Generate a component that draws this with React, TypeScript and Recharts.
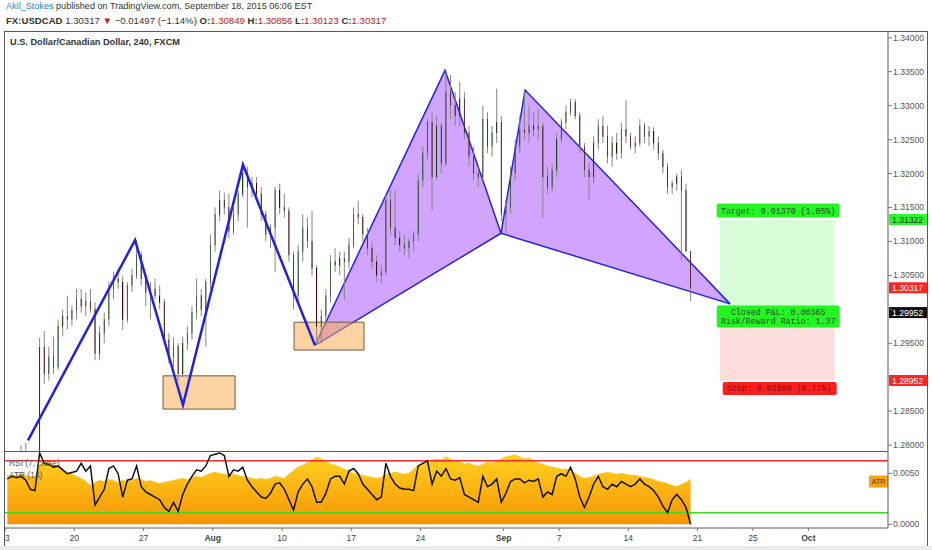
import React from "react";
import { ComposedChart, Bar, Line, Area, XAxis, YAxis, ReferenceArea, ReferenceLine } from "recharts";

// USDCAD, one row per 8h session, starting Mon 13 Jul 2015 (trading day 0). [open, high, low, close]
const ohlc: number[][] = [
  [1.2760, 1.2780, 1.2740, 1.2765], [1.2765, 1.2785, 1.2750, 1.2772], [1.2772, 1.2790, 1.2758, 1.2770],
  [1.2770, 1.2800, 1.2755, 1.2785], [1.2785, 1.2803, 1.2770, 1.2778], [1.2778, 1.2790, 1.2762, 1.2770],
  [1.2770, 1.2785, 1.2745, 1.2760], [1.2760, 1.2958, 1.2755, 1.2944], [1.2944, 1.2968, 1.2890, 1.2905],
  [1.2905, 1.2945, 1.2895, 1.2930], [1.2930, 1.2960, 1.2905, 1.2915], [1.2915, 1.2985, 1.2910, 1.2975],
  [1.2975, 1.3000, 1.2960, 1.2990], [1.2990, 1.3020, 1.2970, 1.2985], [1.2985, 1.3005, 1.2975, 1.2998],
  [1.2998, 1.3030, 1.2985, 1.3015], [1.3015, 1.3030, 1.2995, 1.3005], [1.3005, 1.3025, 1.2990, 1.3012],
  [1.3012, 1.3030, 1.2995, 1.3000], [1.3000, 1.3010, 1.2925, 1.2935], [1.2935, 1.2975, 1.2925, 1.2965],
  [1.2965, 1.2995, 1.2950, 1.2985], [1.2985, 1.3040, 1.2975, 1.3030], [1.3030, 1.3055, 1.3015, 1.3045],
  [1.3045, 1.3060, 1.3030, 1.3040], [1.3040, 1.3050, 1.2970, 1.2985], [1.2985, 1.3040, 1.2980, 1.3035],
  [1.3035, 1.3060, 1.3025, 1.3050], [1.3050, 1.3102, 1.3045, 1.3080], [1.3080, 1.3085, 1.3035, 1.3045],
  [1.3045, 1.3050, 1.3005, 1.3025], [1.3025, 1.3040, 1.2985, 1.3030], [1.3030, 1.3045, 1.3015, 1.3020],
  [1.3020, 1.3035, 1.3000, 1.3010], [1.3010, 1.3015, 1.2950, 1.2955], [1.2955, 1.2965, 1.2920, 1.2930],
  [1.2930, 1.2958, 1.2915, 1.2945], [1.2945, 1.2950, 1.2895, 1.2905], [1.2905, 1.2960, 1.2900, 1.2950],
  [1.2950, 1.2975, 1.2940, 1.2965], [1.2965, 1.3005, 1.2955, 1.2995], [1.2995, 1.3045, 1.2985, 1.3020],
  [1.3020, 1.3030, 1.2990, 1.3000], [1.3000, 1.3045, 1.2945, 1.3040], [1.3040, 1.3110, 1.3030, 1.3095],
  [1.3095, 1.3150, 1.3085, 1.3140], [1.3140, 1.3175, 1.3130, 1.3160], [1.3160, 1.3172, 1.3140, 1.3150],
  [1.3150, 1.3170, 1.3105, 1.3115], [1.3115, 1.3150, 1.3110, 1.3140], [1.3140, 1.3175, 1.3130, 1.3170],
  [1.3170, 1.3213, 1.3165, 1.3200], [1.3200, 1.3210, 1.3120, 1.3180], [1.3180, 1.3195, 1.3165, 1.3185],
  [1.3185, 1.3195, 1.3160, 1.3170], [1.3170, 1.3180, 1.3130, 1.3140], [1.3140, 1.3145, 1.3100, 1.3110],
  [1.3110, 1.3125, 1.3090, 1.3120], [1.3120, 1.3180, 1.3055, 1.3175], [1.3175, 1.3185, 1.3140, 1.3150],
  [1.3150, 1.3170, 1.3135, 1.3145], [1.3145, 1.3150, 1.3070, 1.3080], [1.3080, 1.3085, 1.3000, 1.3020],
  [1.3020, 1.3095, 1.3010, 1.3085], [1.3085, 1.3140, 1.3070, 1.3120], [1.3120, 1.3135, 1.3090, 1.3100],
  [1.3100, 1.3145, 1.3050, 1.3060], [1.3060, 1.3065, 1.2955, 1.2975], [1.2975, 1.3000, 1.2950, 1.2990],
  [1.2990, 1.3030, 1.2975, 1.3020], [1.3020, 1.3080, 1.3010, 1.3070], [1.3070, 1.3090, 1.3055, 1.3065],
  [1.3065, 1.3085, 1.3050, 1.3075], [1.3075, 1.3085, 1.3014, 1.3070], [1.3070, 1.3105, 1.3060, 1.3095],
  [1.3095, 1.3150, 1.3090, 1.3140], [1.3140, 1.3160, 1.3125, 1.3135], [1.3135, 1.3140, 1.3100, 1.3110],
  [1.3110, 1.3120, 1.3080, 1.3090], [1.3090, 1.3100, 1.3060, 1.3070], [1.3070, 1.3080, 1.3040, 1.3050],
  [1.3050, 1.3065, 1.3038, 1.3055], [1.3055, 1.3170, 1.3050, 1.3160], [1.3160, 1.3175, 1.3110, 1.3120],
  [1.3120, 1.3175, 1.3095, 1.3105], [1.3105, 1.3115, 1.3085, 1.3095], [1.3095, 1.3110, 1.3080, 1.3090],
  [1.3090, 1.3105, 1.3075, 1.3100], [1.3100, 1.3115, 1.3085, 1.3110], [1.3110, 1.3200, 1.3100, 1.3190],
  [1.3190, 1.3240, 1.3180, 1.3230], [1.3230, 1.3280, 1.3220, 1.3275], [1.3275, 1.3290, 1.3145, 1.3195],
  [1.3195, 1.3285, 1.3190, 1.3270], [1.3270, 1.3275, 1.3200, 1.3215], [1.3215, 1.3352, 1.3210, 1.3320],
  [1.3320, 1.3345, 1.3280, 1.3300], [1.3300, 1.3320, 1.3270, 1.3285], [1.3285, 1.3335, 1.3270, 1.3310],
  [1.3310, 1.3320, 1.3250, 1.3260], [1.3260, 1.3270, 1.3210, 1.3225], [1.3225, 1.3240, 1.3190, 1.3200],
  [1.3200, 1.3210, 1.3180, 1.3195], [1.3195, 1.3300, 1.3190, 1.3280], [1.3280, 1.3290, 1.3230, 1.3240],
  [1.3240, 1.3270, 1.3225, 1.3260], [1.3260, 1.3325, 1.3245, 1.3275], [1.3275, 1.3285, 1.3130, 1.3140],
  [1.3140, 1.3160, 1.3112, 1.3150], [1.3150, 1.3210, 1.3140, 1.3200], [1.3200, 1.3250, 1.3190, 1.3240],
  [1.3240, 1.3285, 1.3230, 1.3265], [1.3265, 1.3322, 1.3250, 1.3260], [1.3260, 1.3300, 1.3245, 1.3270],
  [1.3270, 1.3290, 1.3255, 1.3265], [1.3265, 1.3295, 1.3250, 1.3270], [1.3270, 1.3275, 1.3135, 1.3195],
  [1.3195, 1.3210, 1.3170, 1.3180], [1.3180, 1.3215, 1.3172, 1.3205], [1.3205, 1.3260, 1.3195, 1.3250],
  [1.3250, 1.3280, 1.3245, 1.3275], [1.3275, 1.3300, 1.3265, 1.3290], [1.3290, 1.3310, 1.3285, 1.3305],
  [1.3305, 1.3310, 1.3280, 1.3285], [1.3285, 1.3290, 1.3230, 1.3240], [1.3240, 1.3245, 1.3195, 1.3205],
  [1.3205, 1.3215, 1.3160, 1.3195], [1.3195, 1.3255, 1.3185, 1.3245], [1.3245, 1.3280, 1.3235, 1.3270],
  [1.3270, 1.3285, 1.3245, 1.3255], [1.3255, 1.3270, 1.3215, 1.3225], [1.3225, 1.3255, 1.3210, 1.3245],
  [1.3245, 1.3260, 1.3220, 1.3230], [1.3230, 1.3275, 1.3222, 1.3265], [1.3265, 1.3308, 1.3245, 1.3255],
  [1.3255, 1.3260, 1.3235, 1.3240], [1.3240, 1.3255, 1.3230, 1.3245], [1.3245, 1.3280, 1.3240, 1.3270],
  [1.3270, 1.3275, 1.3245, 1.3255], [1.3255, 1.3270, 1.3240, 1.3262], [1.3262, 1.3268, 1.3235, 1.3245],
  [1.3245, 1.3255, 1.3220, 1.3230], [1.3230, 1.3235, 1.3200, 1.3210], [1.3210, 1.3215, 1.3170, 1.3180],
  [1.3180, 1.3190, 1.3170, 1.3185], [1.3185, 1.3200, 1.3175, 1.3195], [1.3195, 1.3205, 1.3072, 1.3175],
  [1.3175, 1.3185, 1.3085, 1.30849], [1.30849, 1.30856, 1.30123, 1.30317],
];

const atr14 = [
  0.0048, 0.0047, 0.0048, 0.0049, 0.0048, 0.0047, 0.0046, 0.0058, 0.0061, 0.0060, 0.0058, 0.0056,
  0.0054, 0.0051, 0.0049, 0.0047, 0.0045, 0.0042, 0.0038, 0.0041, 0.0043, 0.0042, 0.0044, 0.0043,
  0.0041, 0.0043, 0.0042, 0.0043, 0.0045, 0.0044, 0.0042, 0.0043, 0.0041, 0.0040, 0.0041, 0.0042,
  0.0043, 0.0044, 0.0045, 0.0044, 0.0046, 0.0047, 0.0046, 0.0048, 0.0050, 0.0051, 0.0050, 0.0049,
  0.0048, 0.0049, 0.0048, 0.0047, 0.0046, 0.0045, 0.0044, 0.0045, 0.0044, 0.0045, 0.0047, 0.0046,
  0.0045, 0.0049, 0.0053, 0.0056, 0.0058, 0.0060, 0.0063, 0.0066, 0.0064, 0.0062, 0.0059, 0.0058,
  0.0056, 0.0054, 0.0052, 0.0050, 0.0049, 0.0048, 0.0047, 0.0046, 0.0045, 0.0046, 0.0049, 0.0050,
  0.0051, 0.0050, 0.0049, 0.0050, 0.0054, 0.0058, 0.0060, 0.0061, 0.0063, 0.0064, 0.0063, 0.0066,
  0.0064, 0.0062, 0.0061, 0.0059, 0.0060, 0.0058, 0.0057, 0.0059, 0.0061, 0.0060, 0.0062, 0.0064,
  0.0066, 0.0067, 0.0068, 0.0066, 0.0064, 0.0065, 0.0062, 0.0060, 0.0059, 0.0057, 0.0056, 0.0055,
  0.0054, 0.0054, 0.0053, 0.0050, 0.0047, 0.0045, 0.0046, 0.0047, 0.0049, 0.0050, 0.0051, 0.0050,
  0.0049, 0.0050, 0.0049, 0.0048, 0.0048, 0.0047, 0.0046, 0.0045, 0.0044, 0.0042, 0.0041, 0.0040,
  0.0038, 0.0037, 0.0039, 0.0041, 0.0044,
];

const rsi7 = [
  56, 58, 57, 58, 55, 48, 47, 76, 68, 67, 65, 66, 63, 60, 61, 62, 68, 62, 66, 36, 42, 48, 64, 66,
  60, 42, 55, 56, 66, 50, 46, 44, 42, 40, 34, 31, 38, 31, 44, 52, 58, 63, 62, 66, 74, 75, 76, 74,
  58, 63, 62, 65, 55, 50, 46, 42, 41, 45, 52, 53, 48, 40, 32, 46, 52, 56, 50, 38, 38, 45, 56, 58,
  58, 52, 62, 64, 60, 52, 48, 44, 40, 42, 68, 58, 52, 49, 48, 48, 47, 66, 68, 70, 52, 62, 58, 64,
  56, 55, 57, 44, 42, 40, 38, 58, 50, 52, 56, 38, 45, 54, 56, 56, 53, 55, 54, 56, 42, 46, 44, 58,
  60, 58, 65, 56, 42, 34, 42, 52, 58, 50, 48, 52, 50, 54, 52, 50, 52, 56, 52, 50, 47, 42, 35, 30,
  40, 44, 40, 34, 21,
];

// trading days (weekends skipped): 13 Jul = 0
const dayTicks = [0, 5, 10, 15, 20, 25, 30, 36, 40, 45, 50, 54, 58];
const dayLabels = ["13", "20", "27", "Aug", "10", "17", "24", "Sep", "7", "14", "21", "25", "Oct"];
const priceTicks = [1.28, 1.285, 1.29, 1.295, 1.3, 1.305, 1.31, 1.315, 1.32, 1.325, 1.33, 1.335, 1.34];
const atrTicks = [0, 0.005];

// drawings
const zigzag = [
  { t: 1.66, p: 1.2807 },
  { t: 9.39, p: 1.3102 },
  { t: 12.85, p: 1.2859 },
  { t: 17.18, p: 1.3213 },
  { t: 22.38, p: 1.2947 },
];
const harmonic = {
  X: { t: 22.38, p: 1.2947 },
  A: { t: 31.77, p: 1.3352 },
  B: { t: 35.81, p: 1.3112 },
  C: { t: 37.55, p: 1.3323 },
  D: { t: 52.35, p: 1.3008 },
};
const boxes = [
  { t1: 11.41, t2: 16.61, p1: 1.2853, p2: 1.2902 },
  { t1: 20.87, t2: 25.92, p1: 1.2940, p2: 1.2981 },
];
const position = { t1: 51.6, t2: 59.9, entry: 1.29952, target: 1.31322, stop: 1.28952 };
const badges = [
  { value: 1.31322, bg: "#2bf52b", fg: "#1c3a1c" },
  { value: 1.30317, bg: "#ff2424", fg: "#ffffff" },
  { value: 1.29952, bg: "#111111", fg: "#ffffff" },
  { value: 1.28952, bg: "#ff2424", fg: "#ffffff" },
];

const bars = ohlc.map(([o, h, l, c], i) => ({ t: (i + 0.5) / 3, o, h, l, c }));
const studies = atr14.map((atr, i) => ({ t: (i + 0.5) / 3, atr, rsi: rsi7[i] }));

function triangle(left: any, mid: any, right: any) {
  const k = (mid.t - left.t) / (right.t - left.t);
  const edge = left.p + (right.p - left.p) * k;
  return [
    { t: left.t, band: [left.p, left.p] },
    { t: mid.t, band: [Math.min(edge, mid.p), Math.max(edge, mid.p)] },
    { t: right.t, band: [right.p, right.p] },
  ];
}
const triXAB = triangle(harmonic.X, harmonic.A, harmonic.B);
const triBCD = triangle(harmonic.B, harmonic.C, harmonic.D);

const FONT = "'Liberation Sans', Arial, sans-serif";
const MONO = "'Liberation Mono', 'DejaVu Sans Mono', monospace";
const T_DOMAIN = [0, 63.75];

function Candle(props: any) {
  const { x, y, width, height, payload } = props;
  if (!payload || !height || height <= 0) return null;
  const { o, h, l, c } = payload;
  const k = height / (h - l);
  const yo = y + (h - o) * k;
  const yc = y + (h - c) * k;
  const up = c >= o;
  const mid = x + width / 2;
  return (
    <g>
      <line x1={mid} x2={mid} y1={y} y2={y + height} stroke="#858585" strokeWidth={1} />
      <rect
        x={x}
        y={Math.min(yo, yc)}
        width={width}
        height={Math.max(1, Math.abs(yc - yo))}
        fill={up ? "#3a953a" : "#861818"}
        stroke={up ? "#1d431d" : "#3a0909"}
        strokeWidth={0.6}
      />
    </g>
  );
}

// price labels hidden behind the last-value badges
const hiddenPriceLabels = [1.29, 1.3];

function PriceTick(props: any) {
  const { x, y, payload } = props;
  if (hiddenPriceLabels.includes(payload.value)) return null;
  return (
    <text x={x} y={y + 3} fontSize={8.6} fontFamily={FONT} fill="#555">
      {payload.value.toFixed(5)}
    </text>
  );
}

function Badge(props: any) {
  const { viewBox, text, bg, fg } = props;
  if (!viewBox) return null;
  const x = viewBox.x + viewBox.width + 1;
  return (
    <g>
      <rect x={x} y={viewBox.y - 5.5} width={38} height={11} fill={bg} />
      <text x={x + 3} y={viewBox.y + 3.2} fontSize={8.6} fontFamily={FONT} fill={fg}>
        {text}
      </text>
    </g>
  );
}

function TargetTag(props: any) {
  const { viewBox } = props;
  if (!viewBox) return null;
  const { x, y, width } = viewBox;
  return (
    <g>
      <rect x={x - 3} y={y - 16} width={width + 8} height={14} rx={2} fill="#22f522" />
      <text x={x + width / 2 + 1} y={y - 6} textAnchor="middle" fontSize={8.3} fontFamily={MONO} fill="#2c4a2c">
        Target: 0.01370 (1.05%)
      </text>
    </g>
  );
}

function PnlTag(props: any) {
  const { viewBox } = props;
  if (!viewBox) return null;
  const { x, y, width } = viewBox;
  return (
    <g>
      <rect x={x - 3} y={y - 7} width={width + 8} height={22} rx={2} fill="#22f522" />
      <text x={x + width / 2 + 1} y={y + 3} textAnchor="middle" fontSize={8.3} fontFamily={MONO} fill="#2c4a2c">
        Closed P&amp;L: 0.00365
      </text>
      <text x={x + width / 2 + 1} y={y + 12} textAnchor="middle" fontSize={8.3} fontFamily={MONO} fill="#2c4a2c">
        Risk/Reward Ratio: 1.37
      </text>
    </g>
  );
}

function StopTag(props: any) {
  const { viewBox } = props;
  if (!viewBox) return null;
  const { x, y, width, height } = viewBox;
  const b = y + height;
  return (
    <g>
      <rect x={x + 3} y={b + 1.5} width={width - 1} height={13} rx={2} fill="#ff1e1e" />
      <text x={x + width / 2 + 2} y={b + 11} textAnchor="middle" fontSize={8.3} fontFamily={MONO} fill="#7a1010">
        Stop: 0.01000 (0.77%)
      </text>
    </g>
  );
}

function AtrBadge(props: any) {
  const { viewBox } = props;
  if (!viewBox) return null;
  const x = viewBox.x + viewBox.width - 19;
  return (
    <g>
      <rect x={x} y={viewBox.y - 6} width={19} height={12} fill="#f7a21b" />
      <text x={x + 9.5} y={viewBox.y + 2.5} textAnchor="middle" fontSize={7} fontFamily={FONT} fill="#5a3300">
        ATR
      </text>
    </g>
  );
}

function TimeTick(props: any) {
  const { x, y, payload } = props;
  const idx = dayTicks.indexOf(payload.value);
  const label = dayLabels[idx] ?? "";
  const bold = label === "Aug" || label === "Sep" || label === "Oct";
  return (
    <text x={x} y={y + 8} textAnchor="middle" fontSize={8.6} fontFamily={FONT} fill="#444" fontWeight={bold ? 700 : 400}>
      {label}
    </text>
  );
}

const line = (style: React.CSSProperties) => <div style={{ position: "absolute", background: "#5a5a5a", ...style }} />;

export default function App() {
  return (
    <div style={{ position: "relative", width: 932, height: 550, background: "#fff", overflow: "hidden", fontFamily: FONT }}>
      <style>{`body{margin:0}`}</style>

      {/* header */}
      <div style={{ position: "absolute", left: 6, top: 1, fontSize: 9.1, color: "#333", whiteSpace: "nowrap" }}>
        <span style={{ color: "#2b7fd1" }}>Akil_Stokes</span> published on TradingView.com, September 18, 2015 06:06 EST
      </div>
      <div style={{ position: "absolute", left: 6, top: 15, fontSize: 9.6, color: "#333", whiteSpace: "nowrap" }}>
        <b>FX:USDCAD</b> 1.30317 <span style={{ color: "#d01818" }}>▼</span> −0.01497 (−1.14%) <b>O:</b>
        <span style={{ color: "#c62020" }}>1.30849</span> <b>H:</b>
        <span style={{ color: "#c62020" }}>1.30856</span> <b>L:</b>
        <span style={{ color: "#c62020" }}>1.30123</span> <b>C:</b>
        <span style={{ color: "#c62020" }}>1.30317</span>
      </div>

      {/* price pane */}
      <div style={{ position: "absolute", left: 0, top: 31 }}>
        <ComposedChart width={932} height={420} data={bars} margin={{ top: 0, right: 0, bottom: 0, left: 5 }}>
          <XAxis type="number" dataKey="t" domain={T_DOMAIN} allowDataOverflow hide />
          <YAxis
            orientation="right"
            width={44}
            domain={[1.27913, 1.34099]}
            allowDataOverflow
            ticks={priceTicks}
            interval={0}
            tick={<PriceTick />}
            tickSize={4}
            tickMargin={1}
            axisLine={{ stroke: "#5a5a5a" }}
            tickLine={{ stroke: "#777" }}
          />
          <ReferenceArea x1={position.t1} x2={position.t2} y1={position.entry} y2={position.target} fill="#d8fdd8" fillOpacity={1} stroke="none" label={<TargetTag />} />
          <ReferenceArea x1={position.t1} x2={position.t2} y1={position.stop} y2={position.entry} fill="#fddcdc" fillOpacity={1} stroke="none" />
          <Bar dataKey={(d: any) => [d.l, d.h]} barSize={3} shape={<Candle />} isAnimationActive={false} />
          <Area data={triXAB} dataKey="band" type="linear" fill="#b064ff" fillOpacity={0.58} stroke="#2424d8" strokeWidth={1.5} dot={false} activeDot={false} isAnimationActive={false} />
          <Area data={triBCD} dataKey="band" type="linear" fill="#b064ff" fillOpacity={0.58} stroke="#2424d8" strokeWidth={1.5} dot={false} activeDot={false} isAnimationActive={false} />
          <Line data={zigzag} dataKey="p" type="linear" stroke="#2222dc" strokeWidth={2.5} dot={false} activeDot={false} isAnimationActive={false} />
          {boxes.map((b, i) => (
            <ReferenceArea key={i} x1={b.t1} x2={b.t2} y1={b.p1} y2={b.p2} fill="#f8ad55" fillOpacity={0.55} stroke="#6e5c3c" strokeWidth={1} />
          ))}
          <ReferenceArea x1={position.t1} x2={position.t2} y1={position.entry} y2={position.entry + 0.00001} fill="none" stroke="none" label={<PnlTag />} />
          <ReferenceArea x1={position.t1} x2={position.t2} y1={position.stop} y2={position.entry} fill="none" stroke="none" label={<StopTag />} />
          {badges.map((b) => (
            <ReferenceLine key={b.value} y={b.value} stroke="none" label={<Badge text={b.value.toFixed(5)} bg={b.bg} fg={b.fg} />} />
          ))}
        </ComposedChart>
      </div>

      {/* study pane: ATR (14) area + RSI (7) */}
      <div style={{ position: "absolute", left: 0, top: 451 }}>
        <ComposedChart width={932} height={94} data={studies} margin={{ top: 0, right: 0, bottom: 0, left: 5 }}>
          <defs>
            <linearGradient id="atrFill" x1="0" y1="0" x2="0" y2="1">
              <stop offset="0" stopColor="#ffd21f" />
              <stop offset="1" stopColor="#f79406" />
            </linearGradient>
          </defs>
          <XAxis
            type="number"
            dataKey="t"
            domain={T_DOMAIN}
            allowDataOverflow
            ticks={dayTicks}
            interval={0}
            height={17}
            tick={<TimeTick />}
            tickSize={3}
            axisLine={{ stroke: "#5a5a5a" }}
            tickLine={{ stroke: "#777" }}
          />
          <YAxis
            yAxisId="atr"
            orientation="right"
            width={44}
            domain={[-0.00036, 0.00719]}
            allowDataOverflow
            ticks={atrTicks}
            interval={0}
            tickFormatter={(v: number) => v.toFixed(4)}
            tick={{ fontSize: 8.6, fill: "#555", fontFamily: FONT }}
            tickSize={4}
            tickMargin={1}
            axisLine={{ stroke: "#5a5a5a" }}
            tickLine={{ stroke: "#777" }}
          />
          <YAxis yAxisId="rsi" orientation="right" hide domain={[18.2, 77.5]} allowDataOverflow />
          <Area yAxisId="atr" dataKey="atr" type="linear" baseValue={0} fill="url(#atrFill)" fillOpacity={1} stroke="#f6c21a" strokeWidth={0.8} dot={false} activeDot={false} isAnimationActive={false} />
          <ReferenceLine yAxisId="rsi" y={70} stroke="#ff2a2a" strokeWidth={1.6} />
          <ReferenceLine yAxisId="rsi" y={30} stroke="#3ddc24" strokeWidth={1.6} />
          <Line yAxisId="rsi" dataKey="rsi" type="linear" stroke="#111" strokeWidth={1.5} dot={false} activeDot={false} isAnimationActive={false} />
          <ReferenceLine yAxisId="atr" y={0.0042} stroke="none" label={<AtrBadge />} />
        </ComposedChart>
      </div>

      {/* study legends */}
      <div style={{ position: "absolute", left: 9, top: 457, fontSize: 8.4, color: "#555", lineHeight: "12px" }}>
        <div>RSI (7, close)</div>
        <div>ATR (14)</div>
      </div>

      {/* pane frame */}
      <div style={{ position: "absolute", left: 0, top: 31, width: 4, height: 515, background: "#fff" }} />
      {line({ left: 4, top: 31, width: 924, height: 1 })}
      {line({ left: 4, top: 31, width: 1, height: 515 })}
      {line({ left: 927, top: 31, width: 1, height: 515 })}
      {line({ left: 4, top: 451, width: 884, height: 1 })}
      <div style={{ position: "absolute", left: 0, top: 546, width: 932, height: 4, background: "#e9ebec" }} />

      {/* pane title */}
      <div style={{ position: "absolute", left: 10, top: 37, fontSize: 9.2, fontWeight: 700, color: "#333" }}>
        U.S. Dollar/Canadian Dollar, 240, FXCM
      </div>
    </div>
  );
}
